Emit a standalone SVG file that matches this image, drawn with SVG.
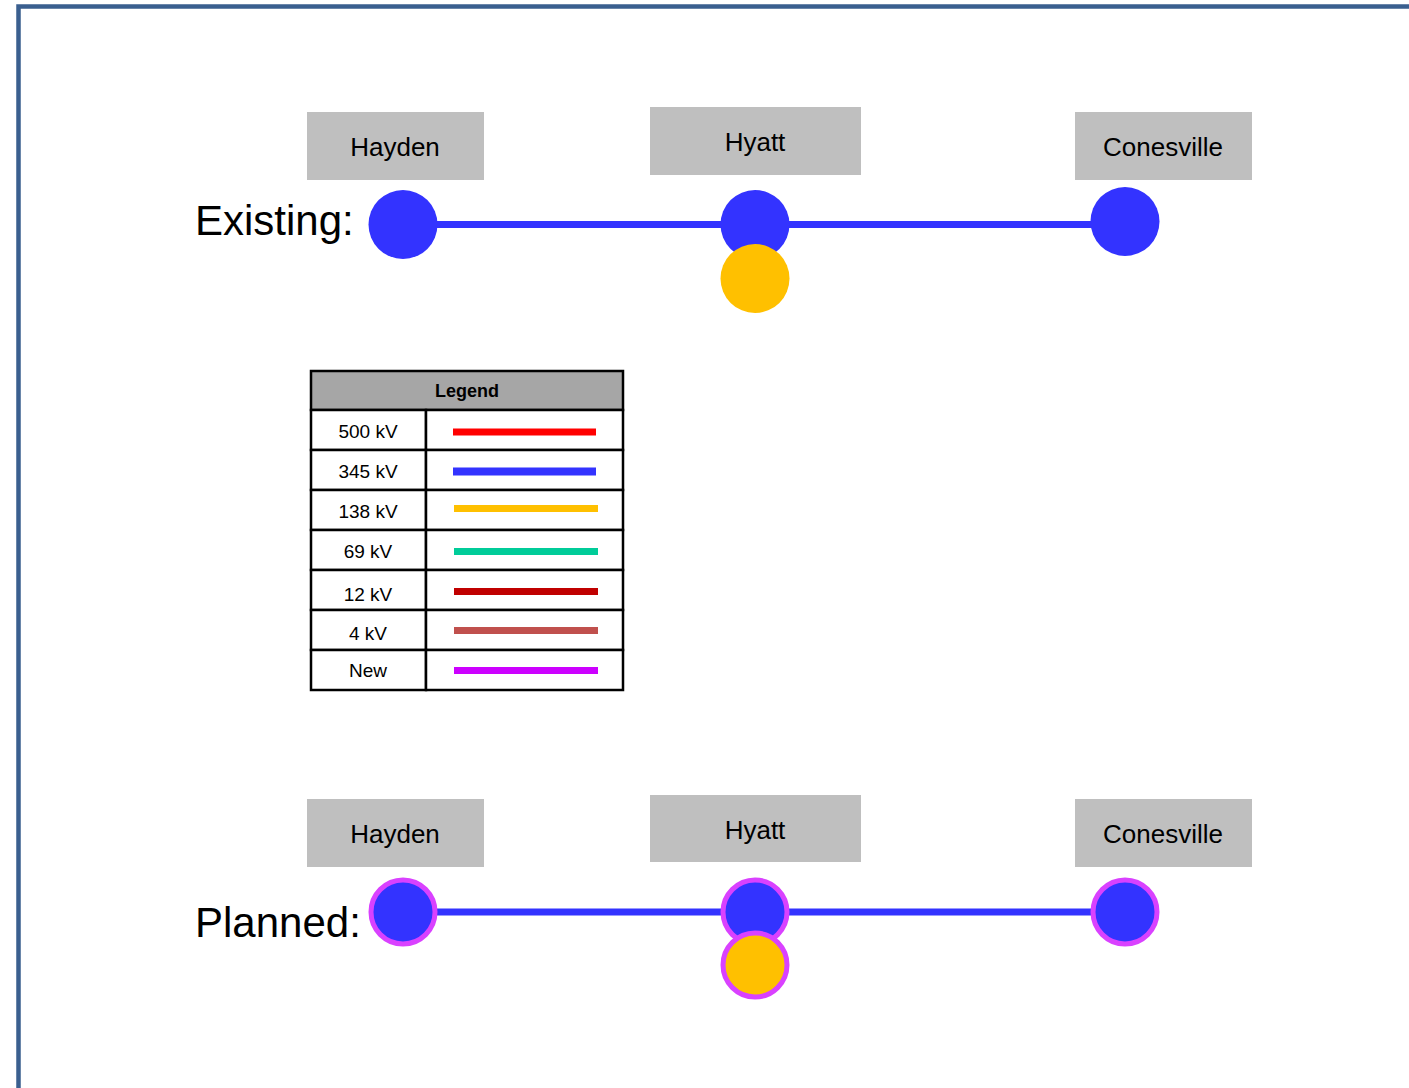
<svg xmlns="http://www.w3.org/2000/svg" width="1409" height="1088" viewBox="0 0 1409 1088">
<style>
.lbl{fill:#BFBFBF}
.lt{font-family:"Liberation Sans",Arial,sans-serif;font-size:26px;fill:#000;text-anchor:middle}
.big{font-family:"Liberation Sans",Arial,sans-serif;font-size:42px;fill:#000}
.bus{fill:#3333FF}
.gen{fill:#FFC000}
.newb{stroke:#D941FF;stroke-width:5}
.wire{stroke:#3333FF;stroke-width:7;fill:none}
.lg{font-family:"Liberation Sans",Arial,sans-serif;font-size:19px;fill:#000;text-anchor:middle}
.cell{fill:#fff;stroke:#000;stroke-width:2.5}
</style>
<rect width="1409" height="1088" fill="#fff"/>
<path d="M18.5 1095 V6.5 H1420" fill="none" stroke="#3A5F8F" stroke-width="4.5"/>

<g id="connectors">
<line class="wire" x1="403" y1="224.5" x2="1125" y2="224.5"/>
<line class="wire" x1="403" y1="912" x2="1125" y2="912"/>
</g>

<text class="big" x="195" y="235">Existing:</text>
<text class="big" x="195" y="937">Planned:</text>

<g id="hayden-ex"><rect class="lbl" x="307" y="112" width="177" height="68"/><text class="lt" x="395" y="156">Hayden</text></g>
<g id="hyatt-ex"><rect class="lbl" x="650" y="107" width="211" height="68"/><text class="lt" x="755" y="151">Hyatt</text></g>
<g id="conesville-ex"><rect class="lbl" x="1075" y="112" width="177" height="68"/><text class="lt" x="1163" y="156">Conesville</text></g>
<g id="bus-hayden-ex"><circle class="bus" cx="403" cy="224.5" r="34.5"/></g>
<g id="bus-hyatt-ex"><circle class="bus" cx="755" cy="224.5" r="34.5"/></g>
<g id="gen-hyatt-ex"><circle class="gen" cx="755" cy="278.5" r="34.5"/></g>
<g id="bus-conesville-ex"><circle class="bus" cx="1125" cy="221.5" r="34.5"/></g>

<g id="hayden-pl"><rect class="lbl" x="307" y="799" width="177" height="68"/><text class="lt" x="395" y="843">Hayden</text></g>
<g id="hyatt-pl"><rect class="lbl" x="650" y="795" width="211" height="67"/><text class="lt" x="755" y="839">Hyatt</text></g>
<g id="conesville-pl"><rect class="lbl" x="1075" y="799" width="177" height="68"/><text class="lt" x="1163" y="843">Conesville</text></g>
<g id="bus-hayden-pl"><circle class="bus newb" cx="403" cy="912" r="32"/></g>
<g id="bus-hyatt-pl"><circle class="bus newb" cx="755" cy="912" r="32"/></g>
<g id="gen-hyatt-pl"><circle class="gen newb" cx="755" cy="965" r="32"/></g>
<g id="bus-conesville-pl"><circle class="bus newb" cx="1125" cy="912" r="32"/></g>

<g id="legend">
<rect x="311" y="371" width="312" height="39" fill="#A6A6A6" stroke="#000" stroke-width="2.5"/>
<text x="467" y="397" font-family="Liberation Sans,Arial,sans-serif" font-size="18" font-weight="bold" text-anchor="middle">Legend</text>
<rect class="cell" x="311" y="410" width="115" height="40"/><rect class="cell" x="426" y="410" width="197" height="40"/>
<rect class="cell" x="311" y="450" width="115" height="40"/><rect class="cell" x="426" y="450" width="197" height="40"/>
<rect class="cell" x="311" y="490" width="115" height="40"/><rect class="cell" x="426" y="490" width="197" height="40"/>
<rect class="cell" x="311" y="530" width="115" height="40"/><rect class="cell" x="426" y="530" width="197" height="40"/>
<rect class="cell" x="311" y="570" width="115" height="40"/><rect class="cell" x="426" y="570" width="197" height="40"/>
<rect class="cell" x="311" y="610" width="115" height="40"/><rect class="cell" x="426" y="610" width="197" height="40"/>
<rect class="cell" x="311" y="650" width="115" height="40"/><rect class="cell" x="426" y="650" width="197" height="40"/>
<text class="lg" x="368" y="438">500 kV</text>
<text class="lg" x="368" y="478">345 kV</text>
<text class="lg" x="368" y="518">138 kV</text>
<text class="lg" x="368" y="558">69 kV</text>
<text class="lg" x="368" y="601" font-size="20">12 kV</text>
<text class="lg" x="368" y="640" font-size="20">4 kV</text>
<text class="lg" x="368" y="677">New</text>
<rect x="453" y="428.5" width="143" height="7" fill="#FF0000"/>
<rect x="453" y="467.5" width="143" height="8" fill="#3333FF"/>
<rect x="454" y="505" width="144" height="7" fill="#FFC000"/>
<rect x="454" y="548" width="144" height="7" fill="#00CC99"/>
<rect x="454" y="588" width="144" height="7" fill="#C00000"/>
<rect x="454" y="627" width="144" height="7" fill="#C0504D"/>
<rect x="454" y="667" width="144" height="7" fill="#CC00FF"/>
</g>
</svg>
